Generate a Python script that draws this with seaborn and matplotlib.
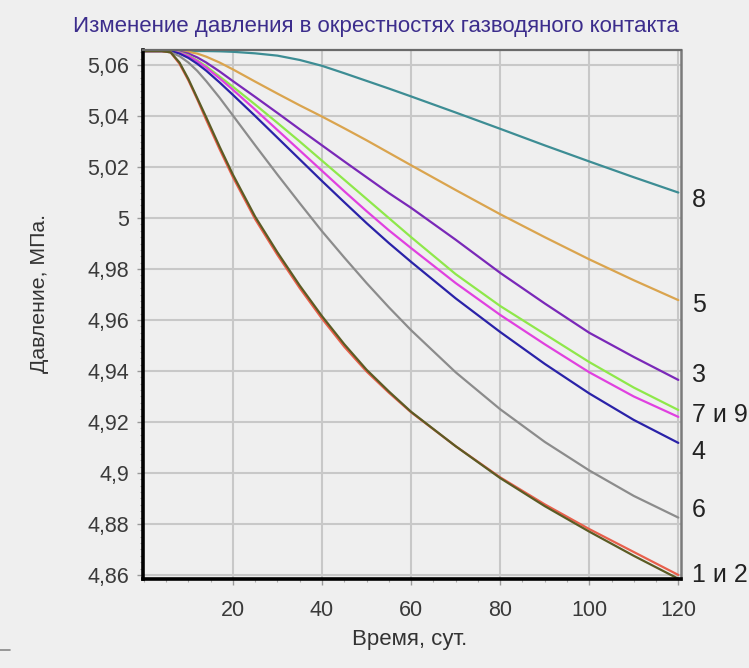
import numpy as np
import pandas as pd
import matplotlib
matplotlib.use("Agg")
import matplotlib.pyplot as plt
import matplotlib.transforms as mtransforms
from matplotlib.ticker import MultipleLocator
import seaborn as sns

# ---------------- data ----------------
t = [0, 4, 6, 8, 10, 12, 14, 17, 20, 25, 30, 35, 40, 45, 50, 55, 60, 70, 80, 90, 100, 110, 120]

p1 = [5.0655, 5.0655, 5.0650, 5.0605, 5.0540, 5.0465, 5.0385, 5.0270, 5.0160, 4.9995, 4.9855, 4.9725,
      4.9605, 4.9495, 4.9398, 4.9315, 4.9238, 4.9105, 4.8983, 4.8877, 4.8780, 4.8690, 4.8600]
p2 = [5.0655, 5.0655, 5.0650, 5.0610, 5.0545, 5.0470, 5.0395, 5.0280, 5.0170, 5.0005, 4.9865, 4.9735,
      4.9615, 4.9505, 4.9405, 4.9320, 4.9240, 4.9105, 4.8980, 4.8870, 4.8770, 4.8675, 4.8585]
p3 = [5.0655, 5.0655, 5.0655, 5.0652, 5.0645, 5.0630, 5.0610, 5.0575, 5.0537, 5.0475, 5.0412, 5.0348,
      5.0285, 5.0222, 5.0160, 5.0098, 5.0040, 4.9915, 4.9785, 4.9665, 4.9550, 4.9455, 4.9365]
p4 = [5.0655, 5.0655, 5.0655, 5.0645, 5.0628, 5.0605, 5.0578, 5.0532, 5.0483, 5.0400, 5.0315, 5.0230,
      5.0145, 5.0062, 4.9980, 4.9902, 4.9828, 4.9685, 4.9553, 4.9428, 4.9312, 4.9208, 4.9118]
p5 = [5.0655, 5.0655, 5.0655, 5.0655, 5.0652, 5.0645, 5.0633, 5.0610, 5.0583, 5.0535, 5.0488, 5.0442,
      5.0398, 5.0352, 5.0305, 5.0256, 5.0207, 5.0110, 5.0015, 4.9925, 4.9838, 4.9756, 4.9678]
p6 = [5.0655, 5.0655, 5.0650, 5.0635, 5.0610, 5.0577, 5.0537, 5.0472, 5.0402, 5.0285, 5.0170, 5.0058,
      4.9948, 4.9845, 4.9745, 4.9650, 4.9560, 4.9395, 4.9250, 4.9122, 4.9010, 4.8910, 4.8825]
p7 = [5.0655, 5.0655, 5.0655, 5.0650, 5.0638, 5.0618, 5.0595, 5.0555, 5.0515, 5.0445, 5.0373, 5.0300,
      5.0225, 5.0150, 5.0075, 5.0000, 4.9925, 4.9780, 4.9655, 4.9545, 4.9435, 4.9335, 4.9247]
p8 = [5.0655, 5.0655, 5.0655, 5.0655, 5.0655, 5.0655, 5.0655, 5.0654, 5.0652, 5.0646, 5.0637, 5.0620,
      5.0597, 5.0568, 5.0538, 5.0508, 5.0477, 5.0414, 5.0350, 5.0285, 5.0222, 5.0160, 5.0100]
p9 = [5.0655, 5.0655, 5.0655, 5.0648, 5.0635, 5.0615, 5.0590, 5.0548, 5.0503, 5.0425, 5.0345, 5.0265,
      5.0185, 5.0105, 5.0027, 4.9952, 4.9882, 4.9745, 4.9620, 4.9505, 4.9395, 4.9300, 4.9220]

series_names = ["8", "5", "3", "7", "9", "4", "6", "1", "2"]
series_values = [p8, p5, p3, p7, p9, p4, p6, p1, p2]

x_ticks = [20, 40, 60, 80, 100, 120]
x_tick_labels = ["20", "40", "60", "80", "100", "120"]
y_ticks = [4.86, 4.88, 4.90, 4.92, 4.94, 4.96, 4.98, 5.00, 5.02, 5.04, 5.06]
y_tick_labels = ["4,86", "4,88", "4,9", "4,92", "4,94", "4,96", "4,98", "5", "5,02", "5,04", "5,06"]

end_labels = ["8", "5", "3", "7 и 9", "4", "6", "1 и 2"]
end_label_y = [5.007, 4.9659, 4.9384, 4.9227, 4.9082, 4.8855, 4.8600]

title = "Изменение давления в окрестностях газводяного контакта"
x_label = "Время, сут."
y_label = "Давление, МПа."

# ---------------- styling ----------------
palette = {
    "1": "#e8604c",
    "2": "#5b5b24",
    "3": "#7a28b8",
    "4": "#2a22a8",
    "5": "#daa44e",
    "6": "#8c8c8c",
    "7": "#8ee84a",
    "8": "#3d8d94",
    "9": "#e040e0",
}

df = pd.concat(
    [pd.DataFrame({"t": t, "p": v, "curve": n}) for n, v in zip(series_names, series_values)],
    ignore_index=True,
)

sns.set_theme(style="white")
plt.rcParams["font.family"] = ["Liberation Sans", "DejaVu Sans"]

bg = "#efefef"
fig = plt.figure(figsize=(7.49, 6.68), dpi=100, facecolor=bg)
ax = fig.add_axes([0.1909, 0.1332, 0.7183, 0.7919])
ax.set_facecolor(bg)

sns.lineplot(data=df, x="t", y="p", hue="curve", hue_order=series_names,
             palette=palette, legend=False, lw=1.6, estimator=None, ax=ax)
for ln in ax.lines:
    ln.set_solid_joinstyle("round")
    ln.set_solid_capstyle("round")

ax.set_xlim(-0.2, 120.6)
ax.set_ylim(4.8584, 5.0659)

ax.set_xticks(x_ticks)
ax.set_xticklabels(x_tick_labels)
ax.set_yticks(y_ticks)
ax.set_yticklabels(y_tick_labels)
ax.xaxis.set_minor_locator(MultipleLocator(5))
ax.yaxis.set_minor_locator(MultipleLocator(0.0025))

ax.set_axisbelow(True)
ax.grid(True, which="major", color="#c8c8c8", lw=1.5)

ax.tick_params(axis="both", which="major", length=4, width=1, color="#999999",
               labelsize=15.5, labelcolor="#3a3a3a", direction="out")
ax.tick_params(axis="y", which="major", pad=6)
ax.tick_params(axis="x", which="major", pad=11)
ax.tick_params(axis="both", which="minor", length=2.5, width=0.8, color="#aaaaaa", direction="out")
ax.tick_params(axis="both", which="both", left=True, bottom=True)

for side in ["left", "bottom"]:
    ax.spines[side].set_color("black")
    ax.spines[side].set_linewidth(2.6)
ax.spines["top"].set_color("#6a6a6a")
ax.spines["top"].set_linewidth(1.6)
ax.spines["right"].set_color("#7a7a7a")
ax.spines["right"].set_linewidth(1.8)

ax.set_xlabel("")
ax.set_ylabel("")

trans = mtransforms.blended_transform_factory(ax.transAxes, ax.transData)
for lab, yv in zip(end_labels, end_label_y):
    ax.text(1.02, yv, lab, transform=trans, ha="left", va="center",
            fontsize=18, color="#222222", clip_on=False)

fig.text(0.502, 0.9596, title, ha="center", va="center", fontsize=16, color="#3c2d8c")
fig.text(0.547, 0.042, x_label, ha="center", va="center", fontsize=16, color="#333333")
fig.text(0.053, 0.561, y_label, ha="center", va="center", rotation=90, fontsize=15.3, color="#333333")

fig.add_artist(plt.Line2D([0.0, 0.014], [0.027, 0.027], transform=fig.transFigure,
                          color="#888888", lw=1.2))

fig.savefig("out.png", dpi=100, facecolor=bg)
